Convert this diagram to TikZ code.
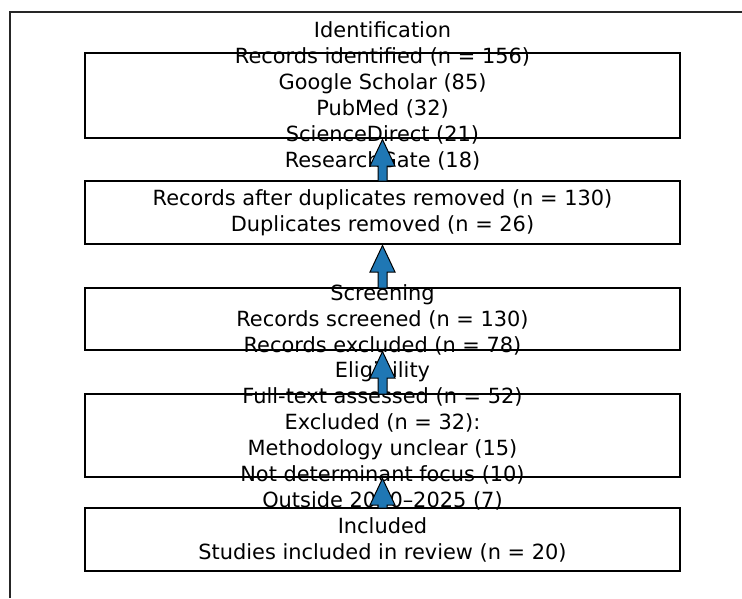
\documentclass[tikz,border=0pt]{standalone}
\usepackage{fontspec}
\setmainfont{DejaVu Sans}
\usetikzlibrary{calc}
\definecolor{flowblue}{HTML}{1F77B4}

\begin{document}
\begin{tikzpicture}[x=1pt,y=-1pt,
stagebox/.style = {draw, line width=1.6pt, minimum width=595pt,
            minimum height=#1, inner sep=0pt, outer sep=0pt},
stagetext/.style = {align=center, inner sep=0pt,
            font=\fontsize{20.9}{26}\selectfont},
uparrow/.style = {fill=flowblue, draw=black, line width=1pt}
                ]
    \useasboundingbox (0,0) rectangle (742,598);
    \def\cx{382.5}
    \def\hl{28pt}  % head length of the arrows
    \draw [black!85,line width=1.3pt] (10,598) -- (10,12) -- (742,12);
    \foreach \n/\y/\h in {ident/95.5/85, dedup/212.5/63, screen/319/62, elig/435.5/83, incl/539.5/63}
        \node[stagebox=\h pt] at (\cx,\y) (\n) {};
    \node[stagetext] at ($(ident)+(0,0.5)$) (identtext) {Identification\\Records identified (n = 156)\\Google Scholar (85)\\PubMed (32)\\ScienceDirect (21)\\ResearchGate (18)};
    \node[stagetext] at ($(dedup)+(0,0.5)$) (deduptext) {Records after duplicates removed (n = 130)\\Duplicates removed (n = 26)};
    \node[stagetext] at ($(screen)+(0,0.5)$) (screentext) {Screening\\Records screened (n = 130)\\Records excluded (n = 78)};
    \node[stagetext] at ($(elig)+(0,0.5)$) (eligtext) {Eligibility\\Full-text assessed (n = 52)\\Excluded (n = 32):\\Methodology unclear (15)\\Not determinant focus (10)\\Outside 2020–2025 (7)};
    \node[stagetext] at ($(incl)+(0,0.5)$) (incltext) {Included\\Studies included in review (n = 20)};
    \foreach \lo/\hi in {dedup/ident, screen/dedup, elig/screen, incl/elig}
        \filldraw[uparrow] let \p1 = (\lo.north), \p2 = (\hi.south) in
            (\x1-4.5pt,\y1) -- (\x1-4.5pt,\y2-\hl) -- (\x1-12.5pt,\y2-\hl)
            -- (\x2,\y2-1.5pt) -- (\x1+12.5pt,\y2-\hl) -- (\x1+4.5pt,\y2-\hl)
            -- (\x1+4.5pt,\y1) -- cycle;
\end{tikzpicture}
\end{document}
